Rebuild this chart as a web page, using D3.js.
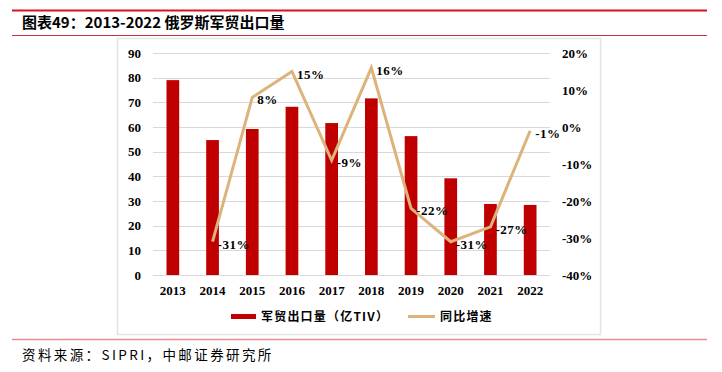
<!DOCTYPE html>
<html lang="zh">
<head>
<meta charset="utf-8">
<title>俄罗斯军贸出口量</title>
<script src="https://d3js.org/d3.v7.min.js"></script>
<style>
  body { margin: 0; background: #fff; }
  svg text { fill: #000; }
</style>
</head>
<body>
<svg id="chart" width="722" height="372"></svg>
<script>
// data
var years = ["2013", "2014", "2015", "2016", "2017", "2018", "2019", "2020", "2021", "2022"];
var exportsTIV = [79.0, 54.7, 59.2, 68.2, 61.6, 71.6, 56.3, 39.2, 28.8, 28.4];
var growth = [null, -31, 8, 15, -9, 16, -22, -31, -27, -1];
var leftTicks = [0, 10, 20, 30, 40, 50, 60, 70, 80, 90];
var rightTicks = [-40, -30, -20, -10, 0, 10, 20];

var svg = d3.select("#chart");
var serif = "'Liberation Serif', 'Times New Roman', serif";
var cjk = "'Noto Sans CJK SC', sans-serif";

// header / footer rules
svg.append("line").attr("x1", 12).attr("x2", 707).attr("y1", 10.5).attr("y2", 10.5)
  .attr("stroke", "#d7141e").attr("stroke-width", 2.2);
svg.append("line").attr("x1", 12).attr("x2", 707).attr("y1", 35.5).attr("y2", 35.5)
  .attr("stroke", "#c8323c").attr("stroke-width", 1);
svg.append("line").attr("x1", 12).attr("x2", 707).attr("y1", 339.5).attr("y2", 339.5)
  .attr("stroke", "#e88c8c").attr("stroke-width", 1.5);

svg.append("text").attr("x", 22).attr("y", 28)
  .style("font-family", cjk).style("font-size", "15px").style("font-weight", "bold")
  .text("图表49：2013-2022 俄罗斯军贸出口量");

svg.append("text").attr("x", 22).attr("y", 360)
  .style("font-family", cjk).style("font-size", "13.5px").style("letter-spacing", "2.4px")
  .text("资料来源：SIPRI，中邮证券研究所");

// chart frame
svg.append("rect").attr("x", 117.5).attr("y", 38.5).attr("width", 483).attr("height", 296)
  .attr("fill", "#fff").attr("stroke", "#e4e4e4").attr("stroke-width", 1.5);

var x = d3.scaleBand().domain(years).range([153, 550]).paddingInner(0.68).paddingOuter(0.34);
var yL = d3.scaleLinear().domain([0, 90]).range([275, 53]);
var yR = d3.scaleLinear().domain([-40, 20]).range([275, 53]);

// gridlines
svg.append("g").selectAll("line").data(leftTicks).join("line")
  .attr("x1", 153).attr("x2", 550)
  .attr("y1", function (d) { return Math.round(yL(d)) + 0.5; })
  .attr("y2", function (d) { return Math.round(yL(d)) + 0.5; })
  .attr("stroke", "#d9d9d9").attr("stroke-width", 1);

// axes
var leftAxis = svg.append("g").attr("transform", "translate(153,0)")
  .call(d3.axisLeft(yL).tickValues(leftTicks).tickSize(0).tickPadding(12));
var rightAxis = svg.append("g").attr("transform", "translate(550,0)")
  .call(d3.axisRight(yR).tickValues(rightTicks).tickSize(0).tickPadding(12)
    .tickFormat(function (d) { return d + "%"; }));
var bottomAxis = svg.append("g").attr("transform", "translate(0,275)")
  .call(d3.axisBottom(x).tickSize(0).tickPadding(11));
[leftAxis, rightAxis, bottomAxis].forEach(function (g) {
  g.select(".domain").remove();
  g.selectAll("text").style("font-family", serif).style("font-size", "13px")
    .style("font-weight", "bold").attr("fill", "#000");
});

// bars
svg.append("g").selectAll("rect").data(years).join("rect")
  .attr("x", function (d) { return x(d); })
  .attr("width", x.bandwidth())
  .attr("y", function (d, i) { return yL(exportsTIV[i]); })
  .attr("height", function (d, i) { return yL(0) - yL(exportsTIV[i]); })
  .attr("fill", "#c00000");

// growth line
var pts = years.map(function (d, i) { return { year: d, v: growth[i] }; })
  .filter(function (p) { return p.v !== null; });
var cx = function (p) { return x(p.year) + x.bandwidth() / 2; };
svg.append("path").datum(pts)
  .attr("fill", "none").attr("stroke", "#dcb37b").attr("stroke-width", 3)
  .attr("stroke-linejoin", "miter")
  .attr("d", d3.line().x(cx).y(function (p) { return yR(p.v); }));

// data labels
svg.append("g").selectAll("text").data(pts).join("text")
  .attr("x", function (p) { return cx(p) + 5; })
  .attr("y", function (p) { return yR(p.v) + 7; })
  .style("font-family", serif).style("font-size", "13px").style("font-weight", "bold")
  .style("letter-spacing", "0.5px")
  .text(function (p) { return p.v + "%"; });

// legend
var lg = svg.append("g");
lg.append("rect").attr("x", 231).attr("y", 314).attr("width", 25).attr("height", 5).attr("fill", "#c00000");
lg.append("text").attr("x", 261).attr("y", 321)
  .style("font-family", cjk).style("font-size", "12px").style("font-weight", "bold")
  .style("letter-spacing", "1.2px")
  .text("军贸出口量（亿TIV）");
lg.append("line").attr("x1", 408).attr("x2", 435).attr("y1", 316.5).attr("y2", 316.5)
  .attr("stroke", "#dcb37b").attr("stroke-width", 3);
lg.append("text").attr("x", 440).attr("y", 321)
  .style("font-family", cjk).style("font-size", "12px").style("font-weight", "bold")
  .style("letter-spacing", "1.2px")
  .text("同比增速");
</script>
</body>
</html>
